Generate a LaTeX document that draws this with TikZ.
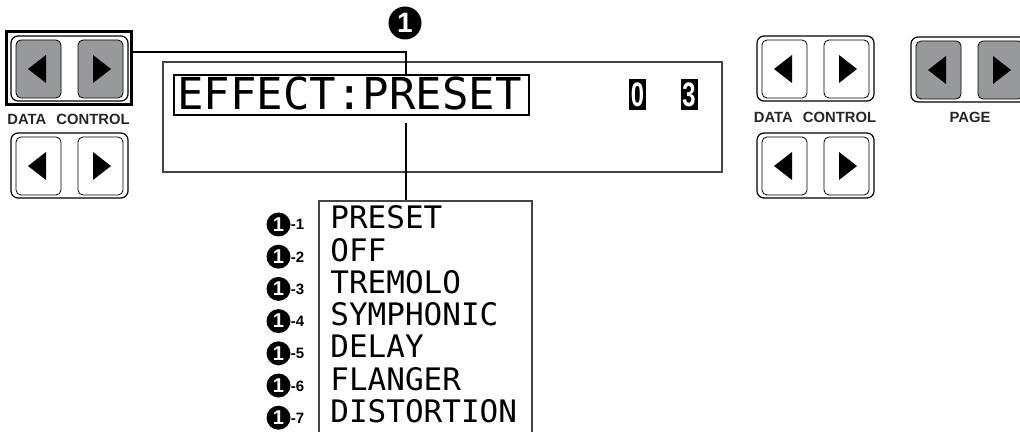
\documentclass[tikz,border=0pt]{standalone}
\usepackage{fontspec}
\usepackage{graphicx}
\setmainfont{Liberation Sans}
\newfontfamily\lcd{DejaVu Sans Mono}
\usetikzlibrary{fit}
\definecolor{btngray}{HTML}{98999B}
\definecolor{lcdline}{HTML}{444444}
\tikzset{
  grp/.style={draw=black, line width=0.6pt, rounded corners=3.5pt, inner sep=0pt},
  btn/.style={draw=black, line width=0.4pt, rounded corners=2.5pt, inner sep=0pt, fill=white},
  gbtn/.style={btn, fill=btngray},
  hilite/.style={draw=black, line width=1.5pt, inner sep=0pt},
  lbl/.style={font=\bfseries\fontsize{7.4}{8}\selectfont, inner sep=0pt, text=black!85},
  lcdbox/.style={draw=lcdline, line width=0.55pt},
  lcdtext/.style={font=\lcd\fontsize{22}{22}\selectfont, inner sep=0pt, anchor=base west},
  itemtext/.style={font=\lcd\fontsize{15.5}{16}\selectfont, inner sep=0pt, anchor=base west},
  numc/.style={circle, fill=black, text=white, inner sep=0pt, minimum size=12pt, font=\bfseries\fontsize{10}{10}\selectfont},
  bignumc/.style={circle, fill=black, text=white, inner sep=0pt, minimum size=16.5pt, font=\bfseries\fontsize{14}{14}\selectfont},
  subtext/.style={font=\bfseries\fontsize{7.5}{8}\selectfont, inner sep=0pt, anchor=base west},
  digit/.style={fill=black, text=white, inner sep=0pt, minimum width=8.5pt, minimum height=15.5pt, font=\bfseries\fontsize{17}{17}\selectfont},
  conn/.style={draw=black, line width=1.15pt},
  vconn/.style={draw=black, line width=1pt},
}
\newcommand\btnpair[4]{%
  \node[grp, fit={(#2,#3)(#2+117,#3+65)}] (#1g) {};
  \node[#4, fit={(#2+5,#3+4)(#2+50,#3+62)}] (#1l) {};
  \node[#4, fit={(#2+67,#3+4)(#2+112,#3+62)}] (#1r) {};
  \fill (#1l.center) ++(-10.5,0) -- ++(18,14) -- ++(0,-28) -- cycle;
  \fill (#1r.center) ++(10.5,0) -- ++(-18,14) -- ++(0,-28) -- cycle;
}
\begin{document}
\begin{tikzpicture}[x=0.5pt, y=-0.5pt]
\useasboundingbox (0,0) rectangle (1020,432);
\clip (0,0) rectangle (1020,432);
% left button groups
\node[hilite, fit={(6,32)(131,105)}] (hl) {};
\btnpair{lt}{11}{36}{gbtn}
\node[lbl] (ltlabel) at (68.5,119) {DATA\hspace{3pt} CONTROL};
\btnpair{lb}{11}{133}{btn}
% right button groups
\btnpair{rt}{757}{36}{btn}
\node[lbl] (rtlabel) at (815,117.5) {DATA\hspace{3pt} CONTROL};
\btnpair{rb}{757}{133}{btn}
\btnpair{pg}{911}{37}{gbtn}
\node[lbl] (pglabel) at (970,117.5) {PAGE};
% display
\node[lcdbox, inner sep=0pt, fit={(163,62)(722,172)}] (lcd) {};
\node[draw=black, line width=1pt, inner sep=0pt, fit={(174,75)(529,115)}] (eff) {};
\node[lcdtext] (efftxt) at (177,110) {EFFECT:PRESET};
\node[digit] (d0) at (637.5,94.5) {\scalebox{0.7}[1]{0}};
\node[digit] (d3) at (689,94.5) {\scalebox{0.7}[1]{3}};
% callout
\node[bignumc] (top1) at (405,23) {1};
\coordinate (bend) at (406,52);
\draw[conn] (hl.east |- bend) -- (bend) -- (bend |- eff.north);
\coordinate (ltop) at (406,201);
\draw[vconn] ([yshift=-3.5pt]eff.south -| ltop) -- (ltop);
% list box
\coordinate (lbl) at (319,445);
\coordinate (lbr) at (532,445);
\draw[lcdbox] (lbl) -- (319,201) -- (532,201) -- (lbr);
\foreach \t [count=\i] in {PRESET,OFF,TREMOLO,SYMPHONIC,DELAY,FLANGER,DISTORTION} {
  \node[itemtext] (it\i) at (330,{229+32.2*(\i-1)}) {\t};
  \node[numc] (c\i) at (278.5,{224.5+32.2*(\i-1)}) {1};
  \node[subtext] (s\i) at (290.5,{230+32.2*(\i-1)}) {-\i};
}
\end{tikzpicture}
\end{document}
